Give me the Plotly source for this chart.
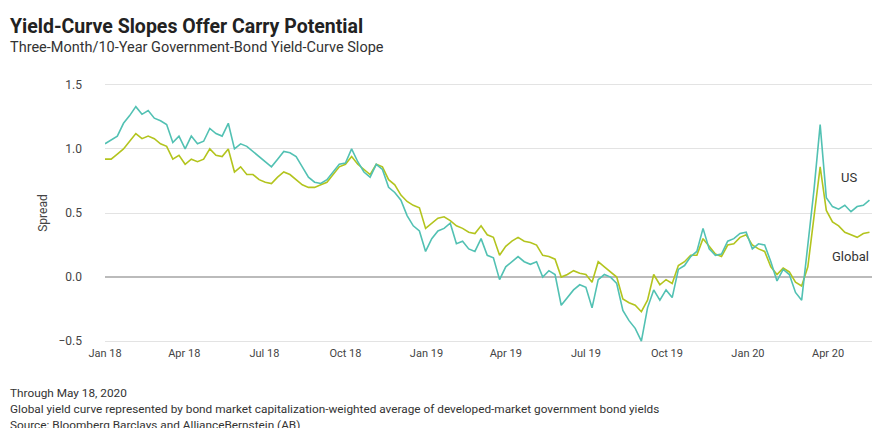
import plotly.graph_objects as go
import pandas as pd

dates = pd.date_range("2018-01-01", periods=125, freq="7D")
us = [1.04,1.07,1.1,1.2,1.26,1.33,1.27,1.3,1.24,1.22,1.19,1.05,1.1,1.0,1.1,1.04,1.06,1.16,1.12,1.1,
      1.2,1.0,1.04,1.02,0.98,0.94,0.9,0.86,0.92,0.98,0.97,0.94,0.86,0.78,0.74,0.73,0.76,0.82,0.88,0.89,
      1.0,0.9,0.82,0.78,0.88,0.84,0.7,0.66,0.6,0.48,0.4,0.36,0.2,0.3,0.36,0.38,0.42,0.26,0.28,0.22,
      0.2,0.3,0.17,0.15,-0.02,0.08,0.12,0.16,0.12,0.1,0.12,0.0,0.05,0.02,-0.22,-0.16,-0.1,-0.06,-0.08,-0.24,
      -0.02,0.02,0.0,-0.05,-0.26,-0.34,-0.4,-0.5,-0.24,-0.1,-0.18,-0.1,-0.16,0.06,0.09,0.16,0.2,0.38,0.22,0.17,
      0.18,0.28,0.3,0.34,0.35,0.22,0.26,0.25,0.12,-0.03,0.06,0.02,-0.12,-0.18,0.25,0.68,1.19,0.62,0.55,0.53,
      0.56,0.51,0.55,0.56,0.6]
glob = [0.92,0.92,0.96,1.0,1.06,1.12,1.08,1.1,1.08,1.04,1.02,0.92,0.95,0.88,0.92,0.9,0.92,1.0,0.95,0.94,
        1.0,0.82,0.86,0.8,0.8,0.76,0.74,0.73,0.78,0.82,0.8,0.76,0.72,0.7,0.7,0.72,0.74,0.8,0.86,0.88,
        0.94,0.88,0.84,0.8,0.88,0.86,0.76,0.72,0.64,0.59,0.56,0.54,0.38,0.42,0.46,0.47,0.44,0.4,0.38,0.35,
        0.34,0.4,0.33,0.31,0.17,0.24,0.28,0.31,0.28,0.27,0.25,0.17,0.16,0.14,0.0,0.02,0.05,0.03,0.02,-0.04,
        0.12,0.08,0.04,0.0,-0.17,-0.2,-0.22,-0.27,-0.18,0.02,-0.06,-0.02,-0.05,0.09,0.12,0.17,0.17,0.3,0.24,0.18,
        0.16,0.25,0.26,0.31,0.33,0.25,0.22,0.2,0.08,0.02,0.07,0.04,-0.04,-0.07,0.08,0.45,0.86,0.52,0.43,0.4,
        0.35,0.33,0.31,0.34,0.35]
tickvals = ["2018-01-01","2018-04-01","2018-07-01","2018-10-01","2019-01-01","2019-04-01",
            "2019-07-01","2019-10-01","2020-01-01","2020-04-01"]
ticktext = ["Jan 18","Apr 18","Jul 18","Oct 18","Jan 19","Apr 19","Jul 19","Oct 19","Jan 20","Apr 20"]

fig = go.Figure()
fig.add_trace(go.Scatter(x=dates, y=glob, mode="lines", name="Global",
                         line=dict(color="#B3C41E", width=1.6)))
fig.add_trace(go.Scatter(x=dates, y=us, mode="lines", name="US",
                         line=dict(color="#52C1B3", width=1.6)))
font = "Roboto, Liberation Sans, sans-serif"
T, B = 73, 91
fig.update_layout(
    width=880, height=428, margin=dict(l=97, r=15, t=T, b=B),
    plot_bgcolor="white", paper_bgcolor="white", showlegend=False,
    font=dict(family=font, size=12, color="#333"),
    xaxis=dict(range=["2018-01-01","2020-05-22"], tickvals=tickvals, ticktext=ticktext,
               showgrid=False, zeroline=False, showline=False, ticks="", tickfont=dict(size=11, color="#444")),
    yaxis=dict(range=[-0.53, 1.53], tickvals=[-0.5,0,0.5,1.0,1.5], tickformat=".1f",
               gridcolor="#E3E3E3", zeroline=True, zerolinecolor="#BBBBBB", zerolinewidth=1.5,
               ticklabelstandoff=22,
               title=dict(text="Spread", font=dict(size=12, color="#444"), standoff=8),
               tickfont=dict(size=12, color="#444")),
)
heads = [("<b>Yield-Curve Slopes Offer Carry Potential</b>", 19.5, "#222", 5),
         ("Three-Month/10-Year Government-Bond Yield-Curve Slope", 14.5, "#333", 29)]
for text, size, color, yy in heads:
    fig.add_annotation(xref="paper", yref="paper", x=-97/768, y=1, xanchor="left", yanchor="top",
                       yshift=T - yy, text=text, showarrow=False,
                       font=dict(size=size, color=color, family=font))
foot = ["Through May 18, 2020",
        "Global yield curve represented by bond market capitalization-weighted average of developed-market government bond yields",
        "Source: Bloomberg Barclays and AllianceBernstein (AB)"]
bottom = 428 - B
for k, t in enumerate(foot):
    fig.add_annotation(xref="paper", yref="paper", x=-97/768, y=0, xanchor="left", yanchor="middle",
                       yshift=-(385 + 16*k - bottom), text=t, showarrow=False,
                       font=dict(size=11.8, color="#333", family=font))
fig.add_annotation(x="2020-04-25", y=0.78, text="US", showarrow=False, font=dict(size=13, color="#333"))
fig.add_annotation(x="2020-04-27", y=0.16, text="Global", showarrow=False, font=dict(size=13, color="#333"))
fig.write_html("out.html")
